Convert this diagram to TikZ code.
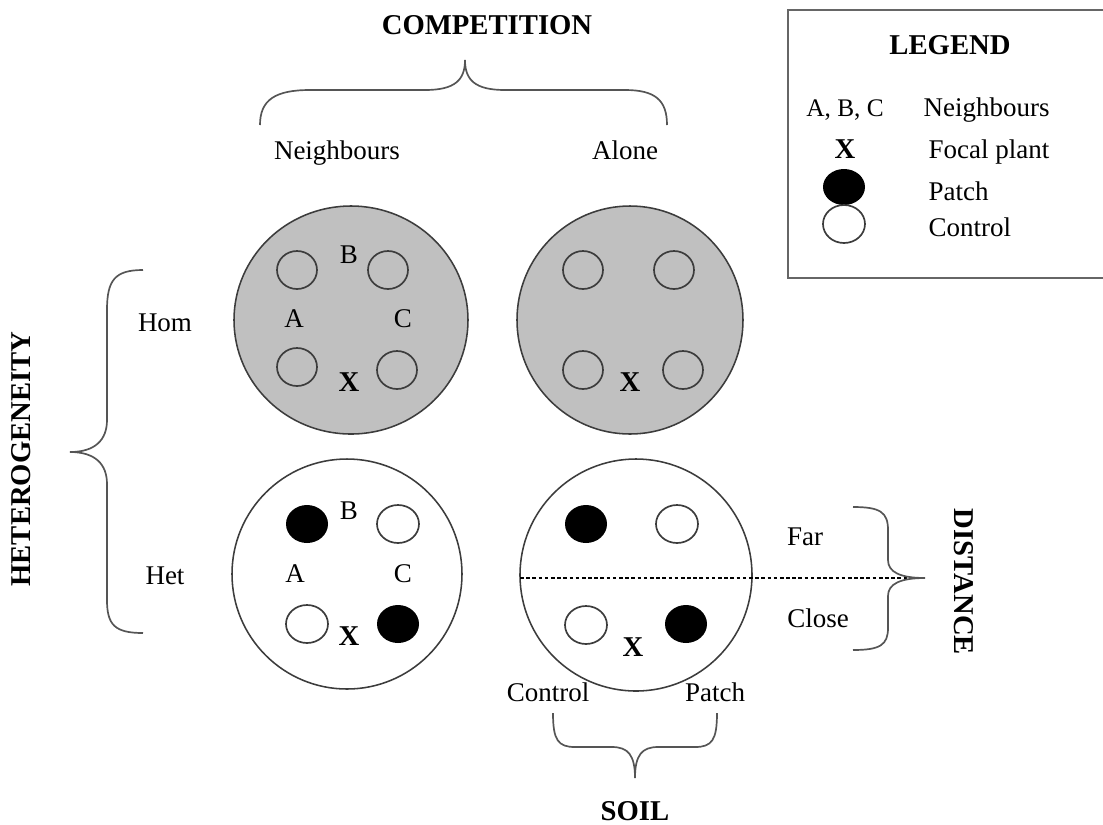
\documentclass[tikz,border=0pt]{standalone}
\usepackage{fontspec}
\setmainfont{Liberation Serif}
\usetikzlibrary{positioning}

\definecolor{soilgray}{RGB}{192,192,192}
\definecolor{edgegray}{RGB}{60,60,60}
\definecolor{bracegray}{RGB}{85,85,85}

\tikzset{
  txt/.style={inner sep=0pt, text height=1.5ex, text depth=0.25ex, font=\fontsize{9.6}{11}\selectfont},
  head/.style={txt, font=\fontsize{10.2}{12}\selectfont\bfseries},
  pot/.style={draw=edgegray, line width=0.55pt},
  hole/.style={draw=edgegray, line width=0.6pt},
  patchhole/.style={fill=black},
  ctrlhole/.style={hole, fill=white},
  brc/.style={draw=bracegray, line width=0.6pt}
}

\begin{document}
\begin{tikzpicture}[x=0.0125cm, y=-0.0125cm]
                \useasboundingbox (0,0) rectangle (1103,824);

                % Competition
                \node[head] (comp) at (487,26) {COMPETITION};
                \draw[brc] (260,125) .. controls (260,100) and (275,90) .. (310,90) -- (425,90)
                      .. controls (455,90) and (465,80) .. (465,60)
                      .. controls (465,80) and (475,90) .. (505,90) -- (625,90)
                      .. controls (655,90) and (667,100) .. (667,125);
                \node[txt] (nbhd) at (337,151) {Neighbours};
                \node[txt] (alone) at (625,151) {Alone};

                % Legend
                \draw[draw=black!60, line width=0.8pt] (788,10) rectangle (1110,278);
                \node[head] (leg) at (950,46) {LEGEND};
                \node[txt, font=\fontsize{9}{11}\selectfont] (legabc) at (845,108) {A, B, C};
                \node[txt, anchor=west] (legnb) at (923,108) {Neighbours};
                \node[head] (legx) at (845,150) {X};
                \node[txt, anchor=west] (legfoc) at (928,150) {Focal plant};
                \fill[patchhole] (844,187) ellipse (21 and 18);
                \node[txt, anchor=west] (legpatch) at (928,192) {Patch};
                \draw[ctrlhole] (844,224) ellipse (21 and 19);
                \node[txt, anchor=west] (legctrl) at (928,228) {Control};

                % Heterogeneity
                \node[head, rotate=90] (het) at (22,459) {HETEROGENEITY};
                \draw[brc] (143,270) .. controls (115,270) and (107,280) .. (107,310) -- (107,420)
                      .. controls (107,440) and (95,452) .. (70,452)
                      .. controls (95,452) and (107,464) .. (107,484) -- (107,600)
                      .. controls (107,625) and (115,633) .. (143,633);
                \node[txt] (homlbl) at (165,323) {Hom};
                \node[txt] (hetlbl) at (165,576) {Het};

                % Hom, neighbours
                \draw[pot, fill=soilgray] (351,320) circle [x radius=117, y radius=114];
                \draw[hole] (297,270) ellipse (20 and 19);
                \draw[hole] (388,270) ellipse (20 and 19);
                \draw[hole] (297,367) ellipse (20 and 19);
                \draw[hole] (397,370) ellipse (20 and 19);
                \node[txt] (b1) at (349,255) {B};
                \node[txt] (a1) at (294,319) {A};
                \node[txt] (c1) at (403,319) {C};
                \node[head] (x1) at (349,383) {X};

                % Hom, alone
                \draw[pot, fill=soilgray] (630,320) circle [x radius=113, y radius=114];
                \draw[hole] (583,270) ellipse (20 and 19);
                \draw[hole] (674,270) ellipse (20 and 19);
                \draw[hole] (583,370) ellipse (20 and 19);
                \draw[hole] (683,370) ellipse (20 and 19);
                \node[head] (x2) at (630,383) {X};

                % Het, neighbours
                \draw[pot, fill=white] (347,574) circle [radius=115];
                \fill[patchhole] (307,524) ellipse (21 and 19);
                \draw[ctrlhole] (398,524) ellipse (21 and 19);
                \draw[ctrlhole] (307,624) ellipse (21 and 19);
                \fill[patchhole] (398,624) ellipse (21 and 19);
                \node[txt] (b3) at (349,511) {B};
                \node[txt] (a3) at (295,574) {A};
                \node[txt] (c3) at (403,574) {C};
                \node[head] (x3) at (349,637) {X};

                % Het, alone
                \draw[pot, fill=white] (636,575) circle [radius=116];
                \fill[patchhole] (586,524) ellipse (21 and 19);
                \draw[ctrlhole] (677,524) ellipse (21 and 19);
                \draw[ctrlhole] (586,625) ellipse (21 and 19);
                \fill[patchhole] (686,624) ellipse (21 and 19);
                \node[head] (x4) at (633,648) {X};

                % Distance
                \draw[dash pattern=on 1.3pt off 0.9pt, line width=0.5pt] (520,578) -- (925,578);
                \node[txt] (far) at (805,537) {Far};
                \node[txt] (close) at (818,619) {Close};
                \draw[brc] (853,507) .. controls (880,507) and (888,512) .. (888,530) -- (888,560)
                      .. controls (888,572) and (900,578) .. (925,578)
                      .. controls (900,578) and (888,584) .. (888,596) -- (888,628)
                      .. controls (888,645) and (880,650) .. (853,650);
                \node[head, rotate=-90] (dist) at (963,582) {DISTANCE};

                % Soil
                \node[txt] (ctrl) at (548,693) {Control};
                \node[txt] (patch) at (715,693) {Patch};
                \draw[brc] (553,713) .. controls (553,740) and (558,747) .. (575,747) -- (612,747)
                      .. controls (628,747) and (635,755) .. (635,778)
                      .. controls (635,755) and (642,747) .. (658,747) -- (695,747)
                      .. controls (712,747) and (717,740) .. (717,713);
                \node[head] (soil) at (635,812) {SOIL};
            \end{tikzpicture}
\end{document}
